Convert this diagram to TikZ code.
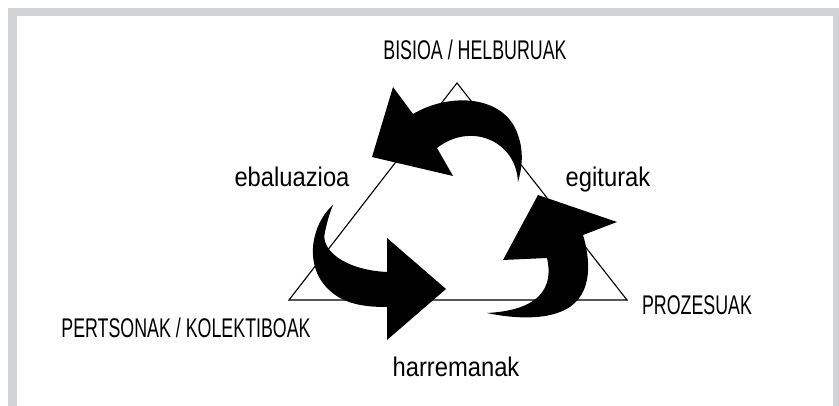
\documentclass[tikz,border=0pt]{standalone}
\usepackage{fontspec}
\usepackage{tikz}
\newfontfamily\capfont[FakeStretch=0.66]{Liberation Sans}
\newfontfamily\lowfont[FakeStretch=0.88]{Liberation Sans}
\definecolor{framegray}{RGB}{209,211,212}

\begin{document}
\begin{tikzpicture}[
  x=1pt, y=-1pt,
  caplbl/.style={anchor=base, inner sep=0pt, font=\capfont\fontsize{27}{27}\selectfont},
  lowlbl/.style={anchor=base, inner sep=0pt, font=\lowfont\fontsize{27}{27}\selectfont},
  tri/.style={draw, line width=1.1pt, line join=miter},
  bigarrow/.style={fill=black},
]
\useasboundingbox (0,0) rectangle (839,406);

% ---------- frame ----------
\fill[framegray] (8,8) rectangle (839,406);
\fill[white] (17,16) rectangle (833,406);

% ---------- triangle ----------
\coordinate (top)   at (457,83);
\coordinate (left)  at (289,300);
\coordinate (right) at (627,300);
\draw[tri] (top) -- (left) -- (right) -- cycle;

% ---------- labels ----------
\node[caplbl] (bisioa)     at (475,60)  {BISIOA / HELBURUAK};
\node[lowlbl] (ebaluazioa) at (292,187) {ebaluazioa};
\node[lowlbl] (egiturak)   at (608,187) {egiturak};
\node[caplbl] (pertsonak)  at (186,338) {PERTSONAK / KOLEKTIBOAK};
\node[caplbl] (prozesuak)  at (697,315) {PROZESUAK};
\node[lowlbl] (harremanak) at (456,377) {harremanak};

% =====================================================
% curved arrows
% =====================================================
% top: egiturak -> ebaluazioa
\fill[bigarrow] (413,114) -- (393,87) -- (372,157) -- (453,176) -- (437,148)
  .. controls (470,122) and (516,140) .. (518,182)
  .. controls (522,168) and (524,152) .. (518,135)
  .. controls (505,95) and (450,92) .. (413,114) -- cycle;

% left: ebaluazioa -> harremanak
\fill[bigarrow] (333,205)
  .. controls (310,225) and (300,275) .. (340,298)
  .. controls (355,306) and (372,307) .. (387,307)
  -- (387,340) -- (446,289) -- (387,238) -- (387,272)
  .. controls (345,270) and (320,250) .. (325,232)
  .. controls (327,222) and (330,212) .. (333,205) -- cycle;

% right: harremanak -> egiturak
\fill[bigarrow] (487,313)
  .. controls (525,311) and (556,298) .. (547,258)
  -- (503,260) -- (538,195) -- (617,222) -- (583,235)
  .. controls (592,265) and (592,300) .. (560,312)
  .. controls (540,320) and (510,318) .. (487,313) -- cycle;

\end{tikzpicture}
\end{document}
